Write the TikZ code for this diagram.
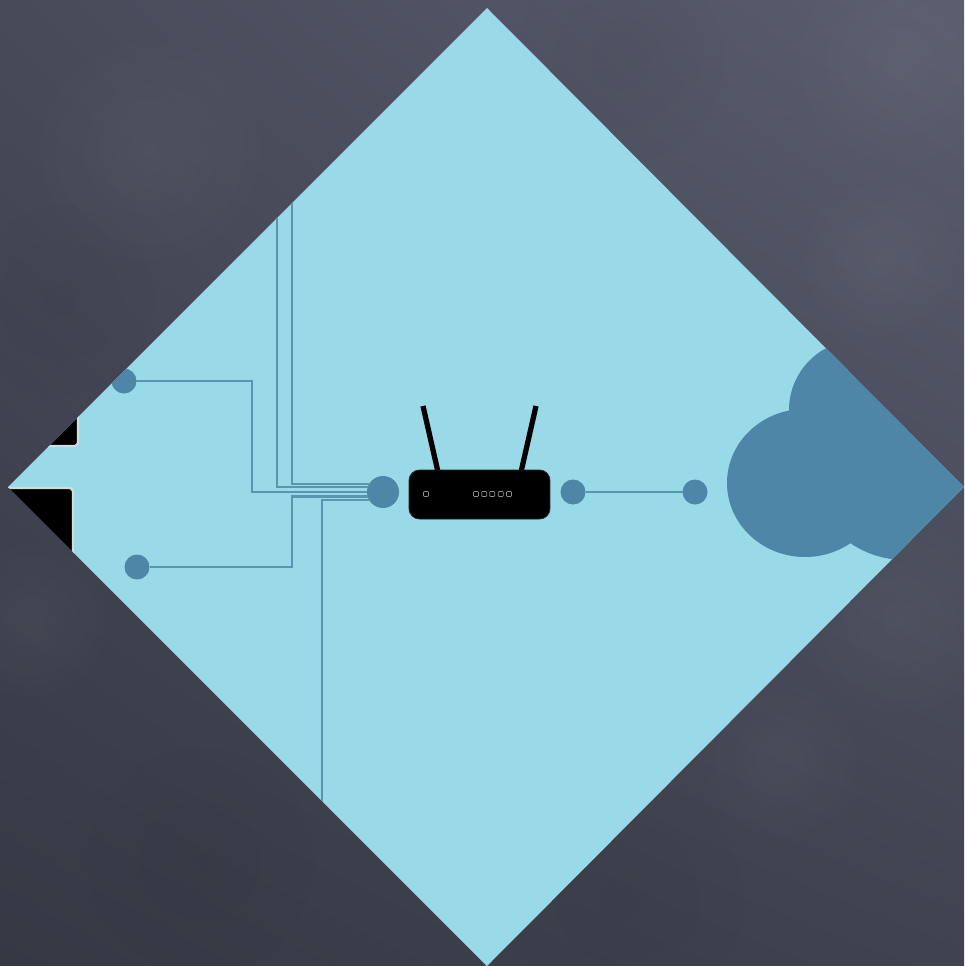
\documentclass[tikz,border=0pt]{standalone}
\usepackage{tikz}
\usetikzlibrary{
  positioning,
  shadings,
  fadings
}
\usepackage{xcolor}
\definecolor{slateA}{RGB}{72,74,90}
\definecolor{slateB}{RGB}{90,93,110}
\definecolor{slateC}{RGB}{54,56,68}
\definecolor{slateD}{RGB}{64,66,80}
\definecolor{sky}{RGB}{153,217,232}
\definecolor{deep}{RGB}{77,134,166}
\definecolor{wire}{RGB}{88,150,176}
\definecolor{rim}{RGB}{210,220,222}
\tikzfading[name=blotch, inner color=transparent!40, outer color=transparent!100]

\begin{document}
\begin{tikzpicture}[
  x=0.02cm, y=-0.02cm,
  dot/.style={circle, fill=deep, inner sep=0pt, outer sep=0pt, minimum size=0.5cm},
  hubdot/.style={dot, minimum size=0.64cm},
  wireline/.style={draw=wire, line width=1.4pt},
  screen/.style={fill=black, draw=rim, line width=1.3pt, rounded corners=2pt},
  routerbody/.style={fill=black, draw=black!85, line width=0.5pt, rounded corners=6pt,
                     inner sep=0pt, outer sep=0pt, minimum width=2.82cm, minimum height=0.98cm},
  antenna/.style={draw=black, line width=3pt},
  led/.style={draw=black!45, fill=black, line width=0.4pt, rounded corners=0.5pt,
              inner sep=0pt, minimum size=0.1cm},
]
\useasboundingbox (0,0) rectangle (964,966);

% backdrop
\shade[upper left=slateA, upper right=slateB, lower left=slateC, lower right=slateD]
  (0,0) rectangle (964,966);
\foreach \bx/\by/\br/\bc in {
    150/150/130/white, 620/60/110/black, 900/60/120/white, 900/620/110/white,
    30/620/90/white, 780/760/90/white, 200/860/120/black, 620/900/130/black,
    60/300/100/black, 880/260/90/white}
  \fill[\bc, opacity=0.06, path fading=blotch] (\bx,\by) circle[radius=\br*0.02cm];

\fill[sky] (487,8) -- (964,487) -- (487,966) -- (8,487) -- cycle;

\begin{scope}
\clip (487,8) -- (964,487) -- (487,966) -- (8,487) -- cycle;

% screens at the left corner
\draw[screen] (-60,300) rectangle (78,446);
\draw[screen] (-60,488) rectangle (73,700);

% cloud
\fill[deep] (805,483) ellipse[x radius=78*0.02cm, y radius=74*0.02cm];
\fill[deep] (859,410) circle[radius=70*0.02cm];
\fill[deep] (905,463) circle[radius=97*0.02cm];
\fill[deep] (800,400) rectangle (964,540);

\node[hubdot] (hub) at (383,492) {};
\node[dot] (upperdot) at (124,381) {};
\node[dot] (lowerdot) at (137,567) {};
\node[dot] (linkleft) at (573,492) {};
\node[dot] (linkright) at (695,492) {};

\coordinate (upperbend) at (252,381);
\coordinate (lowerbend) at (292,567);
\coordinate (topleft) at (277,200);
\coordinate (topright) at (292,190);
\coordinate (bottomend) at (322,820);

\draw[wireline] (upperdot) -- (upperbend) |- (hub.west);
\draw[wireline] (topleft) |- (hub.162);
\draw[wireline] (topright) |- (hub.150);
\draw[wireline] (lowerdot) -- (lowerbend) |- (hub.197);
\draw[wireline] (bottomend) |- (hub.210);
\draw[wireline] (linkleft) -- (linkright);

% router
\coordinate (tipleft) at (423,406);
\coordinate (tipright) at (536,406);
\coordinate (footleft) at (438,472);
\coordinate (footright) at (521,472);
\draw[antenna] (tipleft) -- (footleft);
\draw[antenna] (tipright) -- (footright);
\node[routerbody] (router) at (479.5,494.5) {};
\node[led] (power) at (426,494) {};
\foreach \lx in {476,484.3,492.3,500.7,509}
  \node[led] at (\lx,494) {};
\end{scope}

\end{tikzpicture}
\end{document}
